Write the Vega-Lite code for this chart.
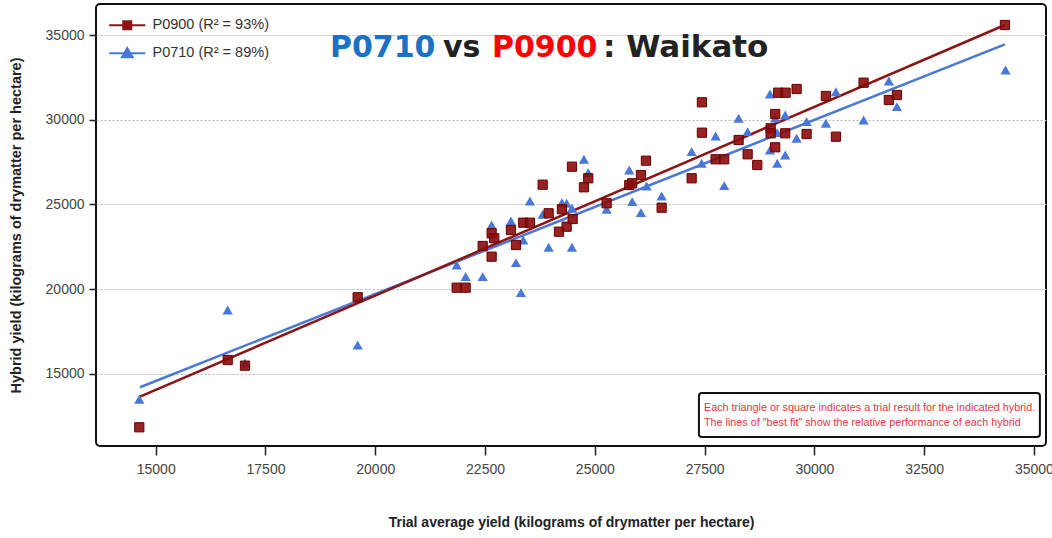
{
  "$schema": "https://vega.github.io/schema/vega-lite/v6.json",
  "width": 950,
  "height": 442,
  "autosize": {"type": "none"},
  "padding": {"left": 96, "top": 4, "right": 6, "bottom": 92},
  "background": "white",
  "config": {
    "font": "Liberation Sans",
    "view": {"stroke": "#111", "strokeWidth": 2, "cornerRadius": 4}
  },
  "datasets": {
    "points": [
      {"hybrid": "P0710", "trial": 14626, "yield": 13507},
      {"hybrid": "P0710", "trial": 16639, "yield": 18776},
      {"hybrid": "P0710", "trial": 17033, "yield": 15649},
      {"hybrid": "P0710", "trial": 19599, "yield": 16711},
      {"hybrid": "P0710", "trial": 21854, "yield": 21431},
      {"hybrid": "P0710", "trial": 22058, "yield": 20741},
      {"hybrid": "P0710", "trial": 22446, "yield": 20741},
      {"hybrid": "P0710", "trial": 22650, "yield": 23791},
      {"hybrid": "P0710", "trial": 23090, "yield": 24027},
      {"hybrid": "P0710", "trial": 23204, "yield": 21567},
      {"hybrid": "P0710", "trial": 23318, "yield": 19797},
      {"hybrid": "P0710", "trial": 23370, "yield": 22906},
      {"hybrid": "P0710", "trial": 23523, "yield": 25207},
      {"hybrid": "P0710", "trial": 23812, "yield": 24422},
      {"hybrid": "P0710", "trial": 23948, "yield": 22475},
      {"hybrid": "P0710", "trial": 24251, "yield": 25107},
      {"hybrid": "P0710", "trial": 24358, "yield": 25071},
      {"hybrid": "P0710", "trial": 24479, "yield": 24776},
      {"hybrid": "P0710", "trial": 24479, "yield": 22475},
      {"hybrid": "P0710", "trial": 24752, "yield": 27667},
      {"hybrid": "P0710", "trial": 24850, "yield": 26877},
      {"hybrid": "P0710", "trial": 25269, "yield": 24717},
      {"hybrid": "P0710", "trial": 25784, "yield": 27036},
      {"hybrid": "P0710", "trial": 25852, "yield": 25166},
      {"hybrid": "P0710", "trial": 26050, "yield": 24517},
      {"hybrid": "P0710", "trial": 26180, "yield": 26092},
      {"hybrid": "P0710", "trial": 26522, "yield": 25502},
      {"hybrid": "P0710", "trial": 27205, "yield": 28116},
      {"hybrid": "P0710", "trial": 27432, "yield": 27431},
      {"hybrid": "P0710", "trial": 27751, "yield": 29042},
      {"hybrid": "P0710", "trial": 27947, "yield": 26110},
      {"hybrid": "P0710", "trial": 28275, "yield": 30086},
      {"hybrid": "P0710", "trial": 28480, "yield": 29296},
      {"hybrid": "P0710", "trial": 28988, "yield": 31520},
      {"hybrid": "P0710", "trial": 29108, "yield": 30104},
      {"hybrid": "P0710", "trial": 29336, "yield": 30281},
      {"hybrid": "P0710", "trial": 28988, "yield": 28216},
      {"hybrid": "P0710", "trial": 29336, "yield": 27921},
      {"hybrid": "P0710", "trial": 29154, "yield": 27431},
      {"hybrid": "P0710", "trial": 29154, "yield": 29237},
      {"hybrid": "P0710", "trial": 29596, "yield": 28906},
      {"hybrid": "P0710", "trial": 29823, "yield": 29886},
      {"hybrid": "P0710", "trial": 30263, "yield": 29791},
      {"hybrid": "P0710", "trial": 30491, "yield": 31656},
      {"hybrid": "P0710", "trial": 31121, "yield": 29986},
      {"hybrid": "P0710", "trial": 31697, "yield": 32287},
      {"hybrid": "P0710", "trial": 31880, "yield": 30771},
      {"hybrid": "P0710", "trial": 34353, "yield": 32936},
      {"hybrid": "P0900", "trial": 14626, "yield": 11855},
      {"hybrid": "P0900", "trial": 16639, "yield": 15826},
      {"hybrid": "P0900", "trial": 17033, "yield": 15490},
      {"hybrid": "P0900", "trial": 19599, "yield": 19525},
      {"hybrid": "P0900", "trial": 21854, "yield": 20092},
      {"hybrid": "P0900", "trial": 22058, "yield": 20092},
      {"hybrid": "P0900", "trial": 22446, "yield": 22552},
      {"hybrid": "P0900", "trial": 22650, "yield": 21921},
      {"hybrid": "P0900", "trial": 22650, "yield": 23301},
      {"hybrid": "P0900", "trial": 22710, "yield": 23006},
      {"hybrid": "P0900", "trial": 23090, "yield": 23496},
      {"hybrid": "P0900", "trial": 23204, "yield": 22611},
      {"hybrid": "P0900", "trial": 23370, "yield": 23927},
      {"hybrid": "P0900", "trial": 23523, "yield": 23927},
      {"hybrid": "P0900", "trial": 23812, "yield": 26169},
      {"hybrid": "P0900", "trial": 23948, "yield": 24481},
      {"hybrid": "P0900", "trial": 24183, "yield": 23396},
      {"hybrid": "P0900", "trial": 24251, "yield": 24717},
      {"hybrid": "P0900", "trial": 24358, "yield": 23691},
      {"hybrid": "P0900", "trial": 24495, "yield": 24145},
      {"hybrid": "P0900", "trial": 24479, "yield": 27231},
      {"hybrid": "P0900", "trial": 24850, "yield": 26546},
      {"hybrid": "P0900", "trial": 24752, "yield": 26015},
      {"hybrid": "P0900", "trial": 25269, "yield": 25071},
      {"hybrid": "P0900", "trial": 25784, "yield": 26151},
      {"hybrid": "P0900", "trial": 25852, "yield": 26251},
      {"hybrid": "P0900", "trial": 26050, "yield": 26741},
      {"hybrid": "P0900", "trial": 26164, "yield": 27585},
      {"hybrid": "P0900", "trial": 26522, "yield": 24812},
      {"hybrid": "P0900", "trial": 27205, "yield": 26546},
      {"hybrid": "P0900", "trial": 27439, "yield": 31030},
      {"hybrid": "P0900", "trial": 27439, "yield": 29237},
      {"hybrid": "P0900", "trial": 27751, "yield": 27667},
      {"hybrid": "P0900", "trial": 27947, "yield": 27667},
      {"hybrid": "P0900", "trial": 28275, "yield": 28806},
      {"hybrid": "P0900", "trial": 28480, "yield": 27962},
      {"hybrid": "P0900", "trial": 28699, "yield": 27331},
      {"hybrid": "P0900", "trial": 29177, "yield": 31597},
      {"hybrid": "P0900", "trial": 29345, "yield": 31597},
      {"hybrid": "P0900", "trial": 29596, "yield": 31815},
      {"hybrid": "P0900", "trial": 29108, "yield": 30340},
      {"hybrid": "P0900", "trial": 29004, "yield": 29496},
      {"hybrid": "P0900", "trial": 29004, "yield": 29201},
      {"hybrid": "P0900", "trial": 29108, "yield": 28375},
      {"hybrid": "P0900", "trial": 29336, "yield": 29201},
      {"hybrid": "P0900", "trial": 29823, "yield": 29160},
      {"hybrid": "P0900", "trial": 30263, "yield": 31402},
      {"hybrid": "P0900", "trial": 30491, "yield": 29001},
      {"hybrid": "P0900", "trial": 31121, "yield": 32187},
      {"hybrid": "P0900", "trial": 31697, "yield": 31166},
      {"hybrid": "P0900", "trial": 31880, "yield": 31461},
      {"hybrid": "P0900", "trial": 34339, "yield": 35591}
    ],
    "fits": [
      {"hybrid": "P0710", "trial": 14642, "yield": 14215},
      {"hybrid": "P0710", "trial": 34339, "yield": 34451},
      {"hybrid": "P0900", "trial": 14642, "yield": 13661},
      {"hybrid": "P0900", "trial": 34339, "yield": 35590}
    ],
    "one": [{}]
  },
  "layer": [
    {
      "data": {"name": "fits"},
      "mark": {"type": "line", "strokeWidth": 2.5},
      "encoding": {
        "x": {
          "field": "trial", "type": "quantitative",
          "scale": {"domain": [13640, 35275], "nice": false, "zero": false},
          "axis": {
            "title": "Trial average yield (kilograms of drymatter per hectare)",
            "values": [15000, 17500, 20000, 22500, 25000, 27500, 30000, 32500, 35000],
            "format": "d", "grid": false, "domain": false,
            "tickSize": 9, "tickWidth": 1.5, "tickColor": "#222",
            "labelFontSize": 14, "labelColor": "#444", "labelPadding": 7,
            "titleFontSize": 14, "titleFontWeight": "bold", "titleColor": "#222", "titlePadding": 39
          }
        },
        "y": {
          "field": "yield", "type": "quantitative",
          "scale": {"domain": [10750, 36830], "nice": false, "zero": false},
          "axis": {
            "title": "Hybrid yield (kilograms of drymatter per hectare)",
            "values": [15000, 20000, 25000, 30000, 35000],
            "format": "d", "grid": true, "gridDash": [2, 2], "gridColor": "#b8b8b8", "domain": false,
            "tickSize": 7, "tickWidth": 1.5, "tickColor": "#222",
            "labelFontSize": 14, "labelColor": "#444", "labelPadding": 5,
            "titleFontSize": 14.5, "titleFontWeight": "bold", "titleColor": "#222", "titlePadding": 22
          }
        },
        "color": {
          "field": "hybrid", "type": "nominal",
          "scale": {"domain": ["P0900", "P0710"], "range": ["#8c1414", "#4a78d8"]},
          "legend": {
            "orient": "none", "legendX": 24, "legendY": 14, "title": null,
            "padding": 0,
            "labelExpr": "datum.value === 'P0900' ? 'P0900 (R² = 93%)' : 'P0710 (R² = 89%)'",
            "labelFontSize": 14.5, "labelColor": "#333", "labelOffset": 18,
            "symbolSize": 64, "symbolStrokeWidth": 2, "rowPadding": 10,
            "encode": {
              "symbols": {
                "update": {
                  "shape": {"signal": "datum.value === 'P0900' ? 'M-4.5,0H4.5M-1,-1H1V1H-1Z' : 'M-4.5,0H4.5M0,-1.3L1.35,1L-1.35,1Z'"},
                  "fill": {"scale": "color", "field": "value"},
                  "fillOpacity": {"value": 1}
                }
              }
            }
          }
        }
      }
    },
    {
      "data": {"name": "points"},
      "transform": [{"filter": "datum.hybrid === 'P0710'"}],
      "mark": {"type": "point", "shape": "triangle-up", "filled": true, "size": 105, "color": "#4a78d8", "opacity": 1},
      "encoding": {
        "x": {"field": "trial", "type": "quantitative"},
        "y": {"field": "yield", "type": "quantitative"}
      }
    },
    {
      "data": {"name": "points"},
      "transform": [{"filter": "datum.hybrid === 'P0900'"}],
      "mark": {"type": "point", "shape": "square", "filled": true, "size": 85, "fill": "#8b0a0a", "fillOpacity": 0.9, "stroke": "#6a0000", "strokeWidth": 1, "strokeOpacity": 1},
      "encoding": {
        "x": {"field": "trial", "type": "quantitative"},
        "y": {"field": "yield", "type": "quantitative"}
      }
    },
    {
      "data": {"name": "one"},
      "mark": {"type": "rect", "fill": "white", "stroke": "#111", "strokeWidth": 2, "cornerRadius": 3},
      "encoding": {
        "x": {"datum": 27371, "type": "quantitative"},
        "x2": {"datum": 35136},
        "y": {"datum": 13879, "type": "quantitative"},
        "y2": {"datum": 11283}
      }
    },
    {
      "data": {"name": "one"},
      "mark": {"type": "text", "text": "Each triangle or square indicates a trial result for the indicated hybrid.", "align": "left", "baseline": "middle", "fontSize": 10.8, "color": "#e8333d"},
      "encoding": {
        "x": {"datum": 27485, "type": "quantitative"},
        "y": {"datum": 12994, "type": "quantitative"}
      }
    },
    {
      "data": {"name": "one"},
      "mark": {"type": "text", "text": "The lines of \"best fit\" show the relative performance of each hybrid", "align": "left", "baseline": "middle", "fontSize": 10.8, "color": "#e8333d"},
      "encoding": {
        "x": {"datum": 27485, "type": "quantitative"},
        "y": {"datum": 12109, "type": "quantitative"}
      }
    },
    {
      "data": {"name": "one"},
      "mark": {"type": "text", "text": "P0710", "align": "left", "baseline": "alphabetic", "font": "DejaVu Sans", "fontWeight": "bold", "fontSize": 30, "color": "#1a72c4"},
      "encoding": {
        "x": {"datum": 18968, "type": "quantitative"},
        "y": {"datum": 33703, "type": "quantitative"}
      }
    },
    {
      "data": {"name": "one"},
      "mark": {"type": "text", "text": "vs", "align": "left", "baseline": "alphabetic", "font": "DejaVu Sans", "fontWeight": "bold", "fontSize": 30, "color": "#222222"},
      "encoding": {
        "x": {"datum": 21542, "type": "quantitative"},
        "y": {"datum": 33703, "type": "quantitative"}
      }
    },
    {
      "data": {"name": "one"},
      "mark": {"type": "text", "text": "P0900", "align": "left", "baseline": "alphabetic", "font": "DejaVu Sans", "fontWeight": "bold", "fontSize": 30, "color": "#ff0000"},
      "encoding": {
        "x": {"datum": 22657, "type": "quantitative"},
        "y": {"datum": 33703, "type": "quantitative"}
      }
    },
    {
      "data": {"name": "one"},
      "mark": {"type": "text", "text": ": Waikato", "align": "left", "baseline": "alphabetic", "font": "DejaVu Sans", "fontWeight": "bold", "fontSize": 31, "color": "#222222"},
      "encoding": {
        "x": {"datum": 25185, "type": "quantitative"},
        "y": {"datum": 33703, "type": "quantitative"}
      }
    }
  ]
}
